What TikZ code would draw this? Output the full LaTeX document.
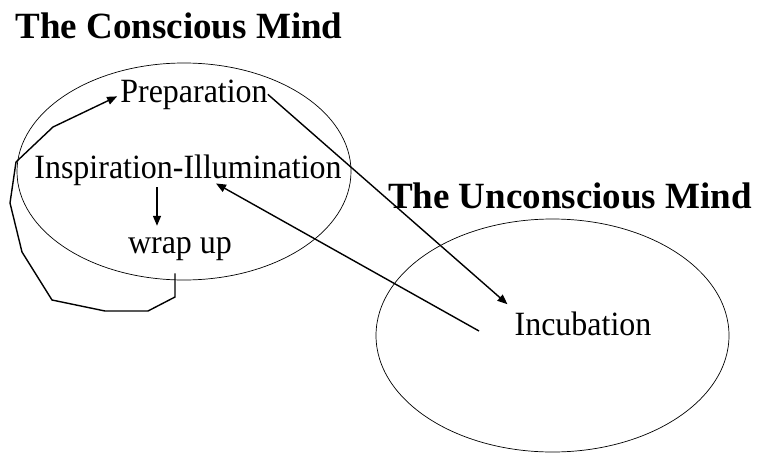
\documentclass[tikz,border=0pt]{standalone}
\usepackage{fontspec}
\setmainfont{Liberation Serif}
\newfontfamily\stagefont[FakeStretch=0.94]{Liberation Serif}
\usetikzlibrary{arrows.meta,shapes.geometric}
\begin{document}
\begin{tikzpicture}[x=1pt,y=-1pt,
  region/.style={draw, ellipse, line width=0.7pt, inner sep=0pt},
  title/.style={font=\fontsize{37}{40}\selectfont\bfseries, inner sep=0pt, anchor=base},
  stage/.style={font=\stagefont\fontsize{34}{38}\selectfont, inner sep=0pt, anchor=base},
  link/.style={line width=1.4pt, -{Triangle[length=10pt,width=8pt]}},
  loopline/.style={line width=1.4pt, line join=miter, -{Triangle[length=10pt,width=8pt]}}]
\useasboundingbox (0,0) rectangle (762,452);
\node[region, minimum width=334pt, minimum height=217pt] (cons) at (184,171.5) {};
\node[region, minimum width=353pt, minimum height=233pt] (uncons) at (552.5,335.5) {};
\node[title] (t1) at (179,38) {The Conscious Mind};
\node[title] (t2) at (570,208) {The Unconscious Mind};
\node[stage] (prep) at (194,102) {Preparation};
\node[stage] (insp) at (188,178) {Inspiration-Illumination};
\node[stage] (wrap) at (180,253) {wrap up};
\node[stage] (incub) at (583,335) {Incubation};
\coordinate (incubtail) at (479,331);
\draw[link] (prep.east) -- ([xshift=-7pt,yshift=7pt]incub.north west);
\draw[link] (incubtail) -- ([xshift=28pt,yshift=2pt]insp.south);
\draw[link] ([xshift=-31pt,yshift=-2pt]insp.south) -- ([xshift=-23pt,yshift=11pt]wrap.north);
\draw[loopline] ([xshift=-5pt,yshift=-13pt]wrap.south) -- (175,297) -- (148,311) -- (105,311)
  -- (52,300) -- (22,252) -- (10,203) -- (16,162) -- (53,127) -- ([xshift=-3pt,yshift=-2pt]prep.west);
\end{tikzpicture}
\end{document}
